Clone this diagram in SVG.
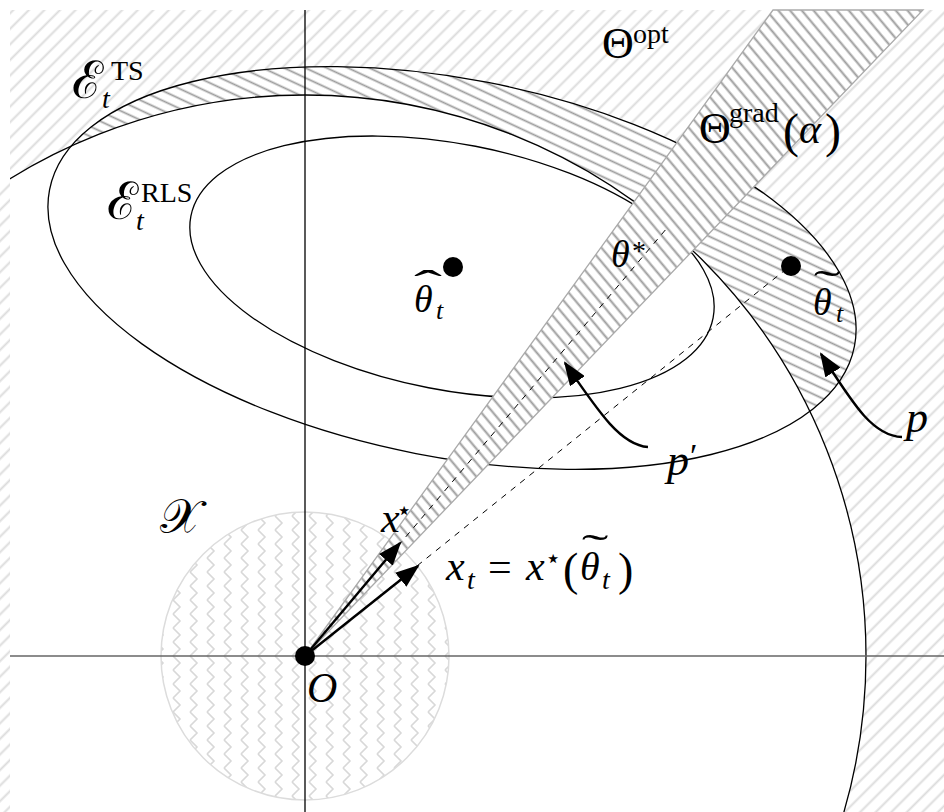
<svg xmlns="http://www.w3.org/2000/svg" width="944" height="812" viewBox="0 0 944 812">
<style>
.curve{fill:none;stroke:#000;stroke-width:1.3}
.dash{fill:none;stroke:#000;stroke-width:1;stroke-dasharray:6 6}
.arr{fill:none;stroke:#000;stroke-width:2.4}
.dot{fill:#000}
.m{font-family:"Liberation Serif",serif;font-style:italic;fill:#000}
.r{font-family:"Liberation Serif",serif;fill:#000}
.cal{font-family:"DejaVu Serif","Liberation Serif",serif;fill:#000}
</style>
<defs>
<pattern id="optHatch" patternUnits="userSpaceOnUse" width="11" height="11" patternTransform="rotate(45)">
<line x1="5.5" y1="-1" x2="5.5" y2="12" stroke="#dcdcdc" stroke-width="2"/>
</pattern>
<pattern id="tsHatch" patternUnits="userSpaceOnUse" width="9" height="9" patternTransform="rotate(25)">
<line x1="-1" y1="4.5" x2="10" y2="4.5" stroke="#9c9c9c" stroke-width="1.8"/>
</pattern>
<pattern id="coneHatch" patternUnits="userSpaceOnUse" width="9" height="9" patternTransform="rotate(50)">
<line x1="-1" y1="4.5" x2="10" y2="4.5" stroke="#9c9c9c" stroke-width="2"/>
</pattern>
<pattern id="zigzag" patternUnits="userSpaceOnUse" width="17" height="14" x="305" y="656">
<polyline points="4,0 11,7 4,14" fill="none" stroke="#d8d8d8" stroke-width="1.6"/>
</pattern>
<clipPath id="clipTS">
<ellipse cx="452" cy="268" rx="410" ry="189" transform="rotate(11 452 268)"/>
</clipPath>
<clipPath id="clipFrame">
<rect x="10" y="10" width="934" height="802"/>
</clipPath>
<marker id="ah" markerUnits="userSpaceOnUse" markerWidth="24" markerHeight="18" viewBox="0 0 24 18" refX="22" refY="9" orient="auto">
<path d="M0,0 L24,9 L0,18 Z" fill="#000"/>
</marker>
</defs>

<g id="theta-opt">
<path d="M10 10 H944 V812 H10 Z M866 656 A561 561 0 1 0 -256 656 A561 561 0 1 0 866 656 Z" fill="url(#optHatch)" fill-rule="evenodd"/>
</g>

<g id="disk-X">
<circle cx="305" cy="656" r="144" fill="url(#zigzag)" stroke="#dcdcdc" stroke-width="1.5"/>
</g>

<g id="ts-outside" clip-path="url(#clipTS)">
<path d="M10 10 H944 V812 H10 Z M866 656 A561 561 0 1 0 -256 656 A561 561 0 1 0 866 656 Z" fill="#fff" fill-rule="evenodd"/>
<path d="M10 10 H944 V812 H10 Z M866 656 A561 561 0 1 0 -256 656 A561 561 0 1 0 866 656 Z" fill="url(#tsHatch)" fill-rule="evenodd"/>
</g>

<g id="curves" clip-path="url(#clipFrame)">
<circle class="curve" cx="305" cy="656" r="561"/>
<ellipse id="ellipse-TS" class="curve" cx="452" cy="268" rx="410" ry="189" transform="rotate(11 452 268)"/>
<ellipse id="ellipse-RLS" class="curve" cx="452" cy="267" rx="266" ry="123" transform="rotate(11 452 267)"/>
</g>

<g id="axes">
<line x1="10" y1="656" x2="944" y2="656" stroke="#666" stroke-width="1.6"/>
<line x1="305" y1="10" x2="305" y2="812" stroke="#000" stroke-width="1.3"/>
</g>

<g id="theta-grad">
<polygon points="305,656 773,10 923,10" fill="#fff"/>
<polygon points="305,656 773,10 923,10" fill="url(#coneHatch)" stroke="#aaa" stroke-width="1.3"/>
</g>

<g id="connectors">
<line class="dash" x1="305" y1="656" x2="667" y2="228"/>
<line class="dash" x1="305" y1="656" x2="790" y2="266"/>
<line class="arr" x1="305" y1="656" x2="400" y2="543" marker-end="url(#ah)"/>
<line class="arr" x1="305" y1="656" x2="418" y2="566" marker-end="url(#ah)"/>
<path class="arr" d="M902 437 C872 436 852 402 821 354" marker-end="url(#ah)"/>
<path class="arr" d="M648 447 C621 445 600 414 565 363" marker-end="url(#ah)"/>
</g>

<g id="node-O">
<circle class="dot" cx="305" cy="656" r="10"/>
<text class="m" x="307" y="702" font-size="42">O</text>
</g>
<g id="node-theta-hat">
<circle class="dot" cx="453" cy="267" r="10"/>
<text class="m" x="414" y="312" font-size="38">θ</text>
<text class="r" font-size="40" text-anchor="middle" transform="translate(428,0) scale(2.1,1)" x="0" y="298">ˆ</text>
<text class="m" x="436" y="319" font-size="26">t</text>
</g>
<g id="node-theta-tilde">
<circle class="dot" cx="791" cy="266" r="10"/>
<text class="m" x="813" y="315" font-size="38">θ</text>
<text class="r" font-size="40" text-anchor="middle" transform="translate(827,0) scale(2,1)" x="0" y="298">˜</text>
<text class="m" x="836" y="322" font-size="26">t</text>
</g>
<g id="node-theta-star">
<text class="m" x="611" y="267" font-size="38">θ</text>
<text class="r" x="632" y="260" font-size="28">*</text>
</g>
<g id="label-opt">
<text class="r" x="602" y="58" font-size="44">Θ</text>
<text class="r" x="633" y="43" font-size="28">opt</text>
</g>
<g id="label-grad">
<text class="r" x="699" y="143" font-size="44">Θ</text>
<text class="r" x="729" y="122" font-size="28">grad</text>
<text class="r" x="783" y="147" font-size="48">(</text>
<text class="m" x="799" y="143" font-size="42">α</text>
<text class="r" x="825" y="147" font-size="48">)</text>
</g>
<g id="label-TS">
<text class="cal" x="72" y="98" font-size="52">ℰ</text>
<text class="r" x="111" y="80" font-size="28">TS</text>
<text class="m" x="102" y="108" font-size="28">t</text>
</g>
<g id="label-RLS">
<text class="cal" x="107" y="219" font-size="52">ℰ</text>
<text class="r" x="141" y="202" font-size="28">RLS</text>
<text class="m" x="136" y="230" font-size="28">t</text>
</g>
<g id="label-X">
<text class="cal" x="160" y="533" font-size="48">𝒳</text>
</g>
<g id="label-xstar">
<text class="m" x="381" y="532" font-size="42">x</text>
<text class="cal" x="396" y="519" font-size="26">⋆</text>
</g>
<g id="label-xt">
<text class="m" x="446" y="580" font-size="42">x</text>
<text class="m" x="467" y="589" font-size="28">t</text>
<text class="r" x="488" y="581" font-size="42">=</text>
<text class="m" x="526" y="580" font-size="42">x</text>
<text class="cal" x="545" y="567" font-size="26">⋆</text>
<text class="r" x="563" y="585" font-size="46">(</text>
<text class="m" x="580" y="580" font-size="40">θ</text>
<text class="r" font-size="40" text-anchor="middle" transform="translate(595,0) scale(2,1)" x="0" y="562">˜</text>
<text class="m" x="602" y="589" font-size="28">t</text>
<text class="r" x="618" y="585" font-size="46">)</text>
</g>
<g id="label-p">
<text class="m" x="906" y="432" font-size="44">p</text>
</g>
<g id="label-pprime">
<text class="m" x="667" y="475" font-size="44">p</text>
<text class="r" x="690" y="467" font-size="34">′</text>
</g>
</svg>
